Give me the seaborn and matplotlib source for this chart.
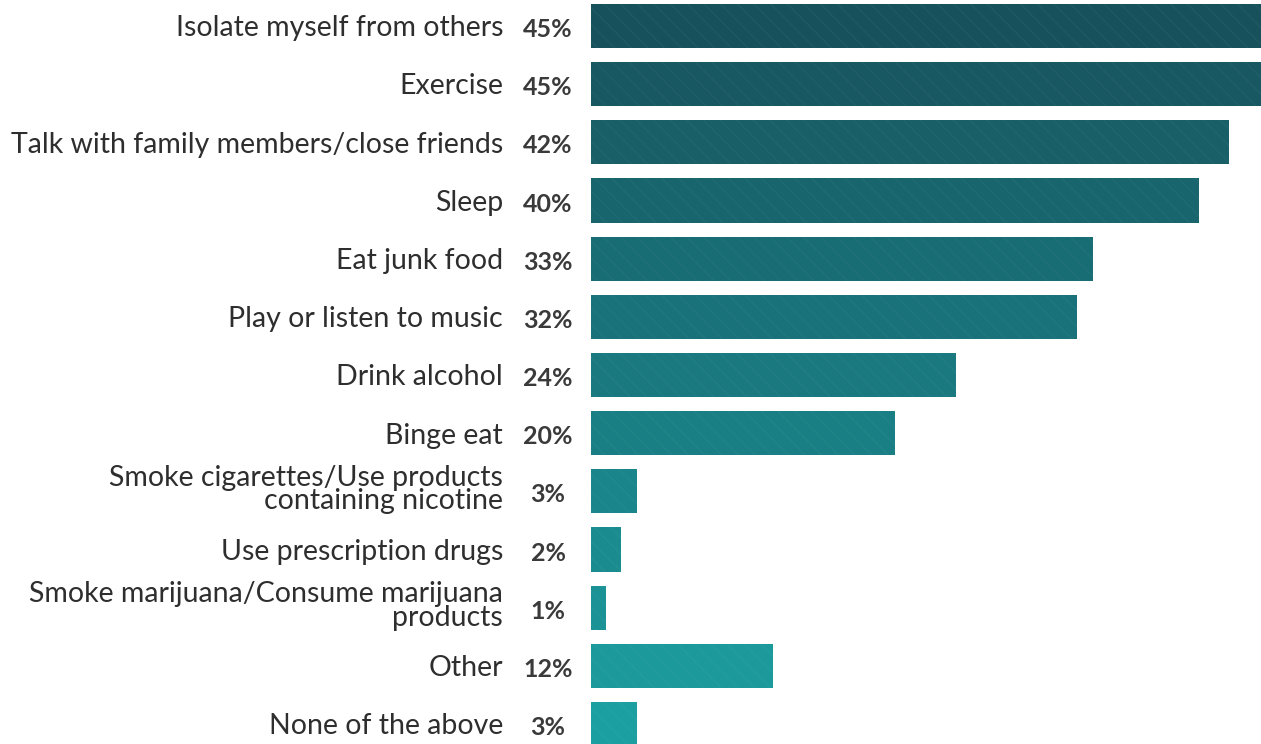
import matplotlib
matplotlib.use("Agg")
import matplotlib.pyplot as plt
import matplotlib.transforms as mtransforms
import seaborn as sns
import pandas as pd

categories = [
    "Isolate myself from others",
    "Exercise",
    "Talk with family members/close friends",
    "Sleep",
    "Eat junk food",
    "Play or listen to music",
    "Drink alcohol",
    "Binge eat",
    "Smoke cigarettes/Use products\ncontaining nicotine",
    "Use prescription drugs",
    "Smoke marijuana/Consume marijuana\nproducts",
    "Other",
    "None of the above",
]
values = [45, 45, 42, 40, 33, 32, 24, 20, 3, 2, 1, 12, 3]

sns.set_theme(style="white")
plt.rcParams["font.family"] = ["Lato", "DejaVu Sans"]

df = pd.DataFrame({"category": categories, "value": values})
palette = sns.blend_palette(["#17525c", "#1b9fa1"], n_colors=len(categories))

W, H = 1261, 744
fig = plt.figure(figsize=(W / 100, H / 100), dpi=100)
ax_left, ax_right = 591, 1261
ax = fig.add_axes([ax_left / W, 0, (ax_right - ax_left) / W, 1])

sns.barplot(data=df, x="value", y="category", hue="category", palette=palette,
            legend=False, width=0.76, orient="h", ax=ax, saturation=1,
            linewidth=0)

# faint diagonal texture on the bars
for p in ax.patches:
    ax.add_patch(plt.Rectangle(p.get_xy(), p.get_width(), p.get_height(),
                               fill=False, hatch="\\\\", lw=0,
                               edgecolor=(1, 1, 1, 0.035)))

px_per_unit = 15.2
ax.set_xlim(0, (ax_right - ax_left) / px_per_unit)
row0, row_step = 26, 58.17
ax.set_ylim((H - row0) / row_step, -row0 / row_step)
ax.axis("off")

trans = mtransforms.blended_transform_factory(ax.transAxes, ax.transData)
span = ax_right - ax_left
for i, (cat, val) in enumerate(zip(categories, values)):
    dy = -0.03 if "\n" in cat else 0.04
    ax.text((503 - ax_left) / span, i + dy, cat, transform=trans, ha="right",
            va="center", fontsize=20.5, color="#2e2e2e", linespacing=0.88,
            clip_on=False)
    ax.text((548 - ax_left) / span, i + 0.06, f"{val}%", transform=trans,
            ha="center", va="center", fontsize=18, fontweight="bold",
            color="#3a3a3a", clip_on=False)

fig.savefig("out.png", dpi=100)
